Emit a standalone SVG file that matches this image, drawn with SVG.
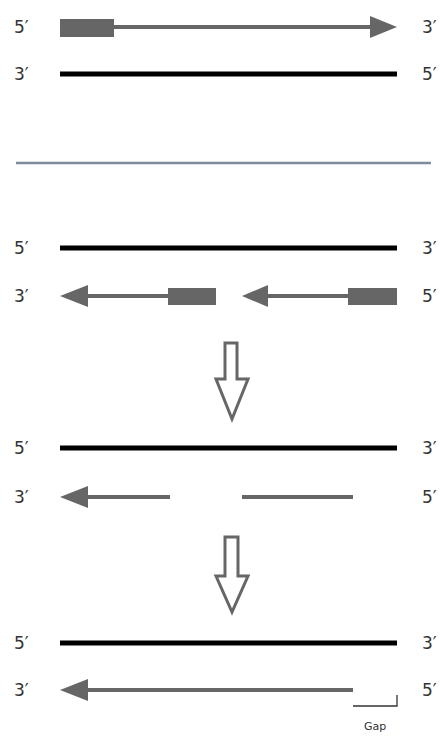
<svg xmlns="http://www.w3.org/2000/svg" width="446" height="738" viewBox="0 0 446 738">
<style>
.lbl{font-family:"DejaVu Sans","Liberation Sans",sans-serif;font-size:17px;fill:#333}
.tpl{stroke:#000;stroke-width:5}
.pr{stroke:#666;stroke-width:4;fill:none}
.head{fill:#666}
.box{fill:#666}
.hollow{fill:#fff;stroke:#666;stroke-width:3;stroke-linejoin:miter}
</style>
<rect width="446" height="738" fill="#fff"/>
<g id="labels">
<text class="lbl" x="14" y="33">5′</text><text class="lbl" x="422" y="33">3′</text>
<text class="lbl" x="14" y="80">3′</text><text class="lbl" x="422" y="80">5′</text>
<text class="lbl" x="14" y="254">5′</text><text class="lbl" x="422" y="254">3′</text>
<text class="lbl" x="14" y="302">3′</text><text class="lbl" x="422" y="302">5′</text>
<text class="lbl" x="14" y="454">5′</text><text class="lbl" x="422" y="454">3′</text>
<text class="lbl" x="14" y="503">3′</text><text class="lbl" x="422" y="503">5′</text>
<text class="lbl" x="14" y="649">5′</text><text class="lbl" x="422" y="649">3′</text>
<text class="lbl" x="14" y="696">3′</text><text class="lbl" x="422" y="696">5′</text>
</g>
<g id="section1">
<rect class="box" x="60" y="19" width="54" height="18"/>
<line class="pr" x1="114" y1="27" x2="372" y2="27"/>
<polygon class="head" points="397,27 370,16 370,38"/>
<line class="tpl" x1="60" y1="74" x2="397" y2="74"/>
</g>
<line id="separator" x1="16" y1="163" x2="431" y2="163" stroke="#7f8a9a" stroke-width="2.5"/>
<g id="section2">
<line class="tpl" x1="60" y1="248" x2="397" y2="248"/>
<polygon class="head" points="60,296 88,285 88,307"/>
<line class="pr" x1="86" y1="296" x2="168" y2="296"/>
<rect class="box" x="168" y="288" width="48" height="17"/>
<polygon class="head" points="242,296 268,285 268,307"/>
<line class="pr" x1="266" y1="296" x2="348" y2="296"/>
<rect class="box" x="348" y="288" width="49" height="17"/>
</g>
<g id="step-arrow-1">
<polygon class="hollow" points="225,343 237,343 237,379 248,379 232,419 216,379 225,379"/>
</g>
<g id="section3">
<line class="tpl" x1="60" y1="448" x2="397" y2="448"/>
<polygon class="head" points="60,497 88,486 88,508"/>
<line class="pr" x1="86" y1="497" x2="170" y2="497"/>
<line class="pr" x1="242" y1="497" x2="353" y2="497"/>
</g>
<g id="step-arrow-2">
<polygon class="hollow" points="225,537 238,537 238,576 248,576 232,612 216,576 225,576"/>
</g>
<g id="section4">
<line class="tpl" x1="60" y1="643" x2="397" y2="643"/>
<polygon class="head" points="60,690 88,679 88,701"/>
<line class="pr" x1="86" y1="690" x2="353" y2="690"/>
<polyline points="353,706 397,706 397,695" fill="none" stroke="#333" stroke-width="1.3"/>
<text x="375" y="730" text-anchor="middle" font-family="DejaVu Sans,Liberation Sans,sans-serif" font-size="11" fill="#333">Gap</text>
</g>
</svg>
